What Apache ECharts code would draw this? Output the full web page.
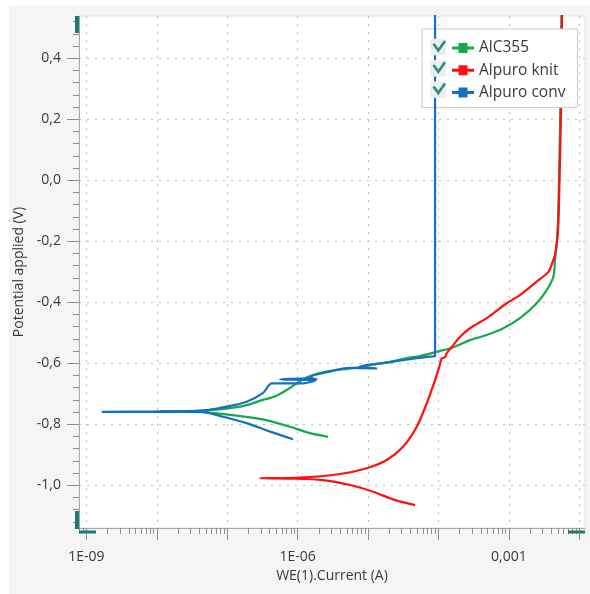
<!DOCTYPE html>
<html>
<head>
<meta charset="utf-8">
<script src="https://cdn.jsdelivr.net/npm/echarts@6/dist/echarts.min.js"></script>
<style>
  html, body { margin: 0; padding: 0; background: #ffffff; }
  #panel { position: absolute; left: 9px; top: 5px; width: 581px; height: 589px; background: #f5f5f5; }
  #chart { position: absolute; left: 0; top: 0; width: 590px; height: 594px; }
</style>
</head>
<body>
<div id="panel"></div>
<div id="chart"></div>
<script>
// Polarisation curves: potential (V) against working-electrode current (A)
const seriesNames = ['AlC355', 'Alpuro knit', 'Alpuro conv'];
const seriesColors = ['#17a84b', '#ff1010', '#1570c4'];

// AlC355
const alcCurrent = [2.70e-6, 1.50e-6, 7.8e-7, 3.23e-7, 1.10e-7, 4.11e-8, 1.11e-8, 4.11e-8, 1.52e-7, 3.23e-7,
  4.93e-7, 7.8e-7, 1.08e-6, 1.50e-6, 2.53e-6, 6.12e-6, 1.07e-5, 2.06e-5, 3.58e-5, 5.48e-5, 9.46e-5,
  1.63e-4, 2.81e-4, 4.85e-4, 8.36e-4, 1.44e-3, 2.49e-3, 3.45e-3, 4.29e-3, 4.53e-3, 4.84e-3, 5.08e-3,
  5.33e-3, 5.58e-3, 5.70e-3];
const alcPotential = [-0.842, -0.830, -0.809, -0.785, -0.770, -0.760, -0.758, -0.756, -0.743, -0.721,
  -0.708, -0.682, -0.659, -0.643, -0.628, -0.617, -0.607, -0.596, -0.584, -0.577, -0.563,
  -0.548, -0.525, -0.508, -0.486, -0.453, -0.404, -0.361, -0.317, -0.262, -0.197, -0.066,
  0.164, 0.538, 0.62];

// Alpuro knit
const knitCurrent = [4.66e-5, 2.26e-5, 1.18e-5, 5.54e-6, 2.30e-6, 7.8e-7, 2.92e-7, 1.08e-6, 4.0e-6, 9.57e-6,
  1.85e-5, 3.17e-5, 4.92e-5, 6.82e-5, 8.96e-5, 1.03e-4, 1.11e-4, 1.24e-4, 1.31e-4, 1.55e-4, 2.03e-4,
  2.81e-4, 4.85e-4, 9.33e-4, 1.44e-3, 2.49e-3, 3.64e-3, 4.29e-3, 4.53e-3, 5.0e-3, 5.25e-3, 5.51e-3,
  5.70e-3, 5.8e-3];
const knitPotential = [-1.066, -1.047, -1.022, -1.000, -0.984, -0.979, -0.978, -0.976, -0.964, -0.945,
  -0.918, -0.874, -0.809, -0.732, -0.656, -0.612, -0.585, -0.581, -0.568, -0.547, -0.514,
  -0.486, -0.453, -0.404, -0.377, -0.333, -0.301, -0.262, -0.246, -0.164, 0.0, 0.230,
  0.538, 0.62];

// Alpuro conv
const convCurrent = [8.61e-7, 4.06e-7, 1.89e-7, 8.7e-8, 4.11e-8, 8.0e-9, 1.65e-9, 8.0e-9, 4.11e-8, 9.84e-8,
  1.89e-7, 3.23e-7, 4.29e-7, 1.19e-6, 1.77e-6, 5.62e-7, 1.08e-6, 1.89e-6, 1.50e-6, 2.62e-6,
  5.54e-6, 1.34e-5, 7.69e-6, 2.06e-5, 4.66e-5, 7.6e-5, 8.96e-5, 8.96e-5];
const convPotential = [-0.850, -0.825, -0.797, -0.776, -0.760, -0.760, -0.760, -0.759, -0.757, -0.743,
  -0.727, -0.698, -0.667, -0.667, -0.657, -0.654, -0.651, -0.654, -0.646, -0.630,
  -0.616, -0.618, -0.611, -0.597, -0.585, -0.579, -0.577, 0.62];

// Axis ticks and labels
const xMin = Math.pow(10, -9.105);
const xMax = Math.pow(10, -1.918);
const xMajorTicks = [1e-9, 1e-8, 1e-7, 1e-6, 1e-5, 1e-4, 1e-3, 1e-2];
const xLabelValues = [1e-9, 1e-6, 1e-3];
const xLabelTexts = ['1E-09', '1E-06', '0,001'];
const yMin = -1.141;
const yMax = 0.538;
const yMajorTicks = [-1.0, -0.8, -0.6, -0.4, -0.2, 0.0, 0.2, 0.4];

// minor ticks: 2..9 within each decade, and every 0.04 V between the labelled values
const xMinorTicks = [];
for (let e = -10; e <= -2; e++) {
  for (let k = 2; k <= 9; k++) xMinorTicks.push(k * Math.pow(10, e));
}
const yMinorTicks = [];
for (let i = -28; i <= 13; i++) {
  if (i % 5 !== 0) yMinorTicks.push(i * 4 / 100);
}

const FONT = "'Open Sans', 'Noto Sans', 'DejaVu Sans', sans-serif";
const TEAL = '#1d7a6f';
const AXIS_GREY = '#a8a8a8';
const TICK_GREY = '#8e8e8e';
const TEXT = '#3a3a3a';

function pairs(xs, ys) { return xs.map((x, i) => [x, ys[i]]); }

const chart = echarts.init(document.getElementById('chart'), null, { renderer: 'canvas' });

const seriesData = [pairs(alcCurrent, alcPotential), pairs(knitCurrent, knitPotential), pairs(convCurrent, convPotential)];

const option = {
  animation: false,
  backgroundColor: 'transparent',
  textStyle: { fontFamily: FONT },
  grid: {
    left: 79, right: 5, top: 16, bottom: 66,
    show: true, backgroundColor: '#ffffff', borderColor: '#e4e4e4', borderWidth: 1,
    containLabel: false
  },
  legend: {
    data: seriesNames,
    orient: 'vertical',
    left: 422, top: 29,
    padding: [11, 12, 7, 30],
    itemWidth: 22, itemHeight: 11, itemGap: 6.3,
    icon: 'path://M0,4 L22,4 L22,7 L0,7 Z M6.5,0.5 L15.5,0.5 L15.5,10.5 L6.5,10.5 Z',
    backgroundColor: '#ffffff',
    borderColor: '#cdcdcd', borderWidth: 1, borderRadius: 0,
    textStyle: { fontFamily: FONT, fontSize: 15.5, color: TEXT },
    selectedMode: false
  },
  xAxis: [
    {
      type: 'log', logBase: 10, min: xMin, max: xMax, position: 'bottom',
      name: 'WE(1).Current (A)', nameLocation: 'middle', nameGap: 40,
      nameTextStyle: { fontFamily: FONT, fontSize: 14, color: TEXT },
      axisLine: { show: true, onZero: false, lineStyle: { color: AXIS_GREY, width: 1 } },
      axisTick: { show: true, inside: false, length: 12, customValues: xMajorTicks, lineStyle: { color: TICK_GREY } },
      axisLabel: {
        customValues: xLabelValues, margin: 22, fontFamily: FONT, fontSize: 14, color: TEXT,
        formatter: function (v) {
          const e = Math.round(Math.log10(v));
          const idx = xLabelValues.findIndex(t => Math.round(Math.log10(t)) === e);
          return idx >= 0 ? xLabelTexts[idx] : '';
        }
      },
      splitLine: { show: true, lineStyle: { color: '#bcbcbc', width: 1, type: [2, 6] } },
      minorTick: { show: false }, minorSplitLine: { show: false }
    },
    {
      // short ticks inside each decade
      type: 'log', logBase: 10, min: xMin, max: xMax, position: 'bottom',
      axisLine: { show: false, onZero: false },
      axisTick: { show: true, inside: false, length: 6, customValues: xMinorTicks, lineStyle: { color: TICK_GREY } },
      axisLabel: { show: false },
      splitLine: { show: false }
    }
  ],
  yAxis: [
    {
      type: 'value', min: yMin, max: yMax, position: 'left',
      name: 'Potential applied (V)', nameLocation: 'middle', nameGap: 53,
      nameTextStyle: { fontFamily: FONT, fontSize: 14, color: TEXT },
      axisLine: { show: true, onZero: false, lineStyle: { color: AXIS_GREY, width: 1 } },
      axisTick: { show: true, inside: false, length: 12, customValues: yMajorTicks, lineStyle: { color: TICK_GREY } },
      axisLabel: {
        customValues: yMajorTicks, margin: 18, fontFamily: FONT, fontSize: 14, color: TEXT,
        formatter: function (v) { return (Math.abs(v) < 1e-9 ? 0 : v).toFixed(1).replace('.', ','); }
      },
      splitLine: { show: true, lineStyle: { color: '#bcbcbc', width: 1, type: [2, 6] } }
    }
  ],
  series: seriesNames.map(function (name, i) {
    return {
      name: name,
      type: 'line',
      xAxisIndex: 0, yAxisIndex: 0,
      data: seriesData[i],
      showSymbol: false,
      symbol: 'rect',
      smooth: 0.3,
      color: seriesColors[i],
      lineStyle: { color: seriesColors[i], width: 2.2 },
      itemStyle: { color: seriesColors[i] },
      clip: true,
      z: 2 + i
    };
  })
};

chart.setOption(option);

// Overlay pieces: axis end handles, legend tick boxes and the short potential ticks
const overlay = [
  { type: 'rect', z: 100, shape: { x: 75, y: 16, width: 4, height: 17 }, style: { fill: TEAL } },
  { type: 'rect', z: 100, shape: { x: 75, y: 511, width: 4, height: 18 }, style: { fill: TEAL } },
  { type: 'rect', z: 100, shape: { x: 79, y: 530.5, width: 17, height: 3 }, style: { fill: TEAL } },
  { type: 'rect', z: 100, shape: { x: 568, y: 530.5, width: 17, height: 3 }, style: { fill: TEAL } }
];

// legend row centres, used for the tick boxes beside each entry
const legendRows = [47.3, 68.6, 89.9];
legendRows.forEach(function (c) {
  overlay.push({
    type: 'rect', z: 100,
    shape: { x: 430.5, y: c - 8.5, width: 15.5, height: 16.5 },
    style: { fill: '#ededed' }
  });
  overlay.push({
    type: 'polyline', z: 101,
    shape: { points: [[433.5, c - 3.5], [438.3, c + 3.2], [445, c - 6.3]] },
    style: { stroke: '#2a8c82', lineWidth: 2.6, fill: null, lineJoin: 'miter' }
  });
});

// short ticks placed through the potential axis' own scale
const axisX = chart.convertToPixel({ xAxisIndex: 0 }, xMin);
yMinorTicks.forEach(function (v) {
  const py = chart.convertToPixel({ yAxisIndex: 0 }, v);
  if (typeof py !== 'number' || !isFinite(py)) return;
  const y = Math.round(py) + 0.5;
  overlay.push({
    type: 'line', z: 50, silent: true,
    shape: { x1: axisX - 6, y1: y, x2: axisX, y2: y },
    style: { stroke: TICK_GREY, lineWidth: 1 }
  });
});

chart.setOption({ graphic: overlay });
</script>
</body>
</html>
